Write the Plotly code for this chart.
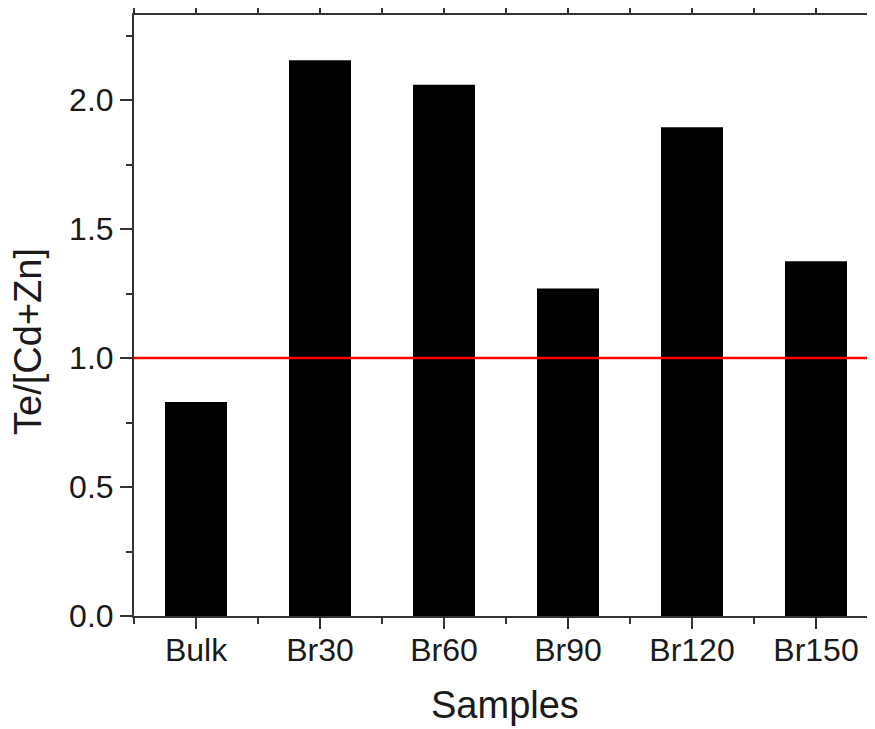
import plotly.graph_objects as go

categories = ["Bulk", "Br30", "Br60", "Br90", "Br120", "Br150"]
ratios = [0.83, 2.155, 2.06, 1.27, 1.895, 1.375]
reference_value = 1.0
y_tick_vals = [0.0, 0.5, 1.0, 1.5, 2.0]
y_tick_text = ["0.0", "0.5", "1.0", "1.5", "2.0"]
x_title = "Samples"
y_title = "Te/[Cd+Zn]"

xpos = list(range(len(categories)))

fig = go.Figure()
fig.add_trace(go.Bar(x=xpos, y=ratios, width=0.5,
                     marker=dict(color="black", line=dict(width=0)),
                     showlegend=False))
fig.add_hline(y=reference_value, line=dict(color="#ff0000", width=2.5), layer="above")

font_family = "Liberation Sans, Arial, sans-serif"
# page body has an 8px default margin, so the figure is sized/offset to compensate
fig.update_layout(
    width=867, height=721,
    margin=dict(l=126, r=0, t=7, b=113),
    plot_bgcolor="white", paper_bgcolor="white",
    font=dict(family=font_family, color="#1a1a1a"),
)
fig.update_xaxes(
    automargin=False,
    range=[-0.5, 5.476],
    tickmode="array", tickvals=xpos, ticktext=categories,
    tickfont=dict(size=32),
    ticklabelstandoff=-6,
    ticks="outside", ticklen=11, tickwidth=2, tickcolor="#333",
    showline=True, linecolor="#333", linewidth=2, mirror="ticks",
    showgrid=False, zeroline=False,
    minor=dict(tick0=-0.5, dtick=1, ticks="outside", ticklen=6, tickwidth=2, tickcolor="#333", showgrid=False),
)
fig.update_yaxes(
    automargin=False,
    range=[0, 2.33],
    tickmode="array", tickvals=y_tick_vals, ticktext=y_tick_text,
    tickfont=dict(size=32),
    ticks="outside", ticklen=12, tickwidth=2, tickcolor="#333",
    showline=True, linecolor="#333", linewidth=2, mirror="ticks",
    showgrid=False, zeroline=False,
    minor=dict(tick0=0, dtick=0.25, ticks="outside", ticklen=6, tickwidth=2, tickcolor="#333", showgrid=False),
)
fig.add_annotation(text=x_title, xref="paper", yref="paper", x=0.5, y=0,
                   xanchor="center", yanchor="middle", yshift=-89, showarrow=False,
                   font=dict(size=38, family=font_family, color="#1a1a1a"))
fig.add_annotation(text=y_title, xref="paper", yref="paper", x=0, y=0.456,
                   xanchor="center", yanchor="middle", xshift=-106, textangle=-90,
                   showarrow=False,
                   font=dict(size=38, family=font_family, color="#1a1a1a"))

fig.write_html("out.html")
